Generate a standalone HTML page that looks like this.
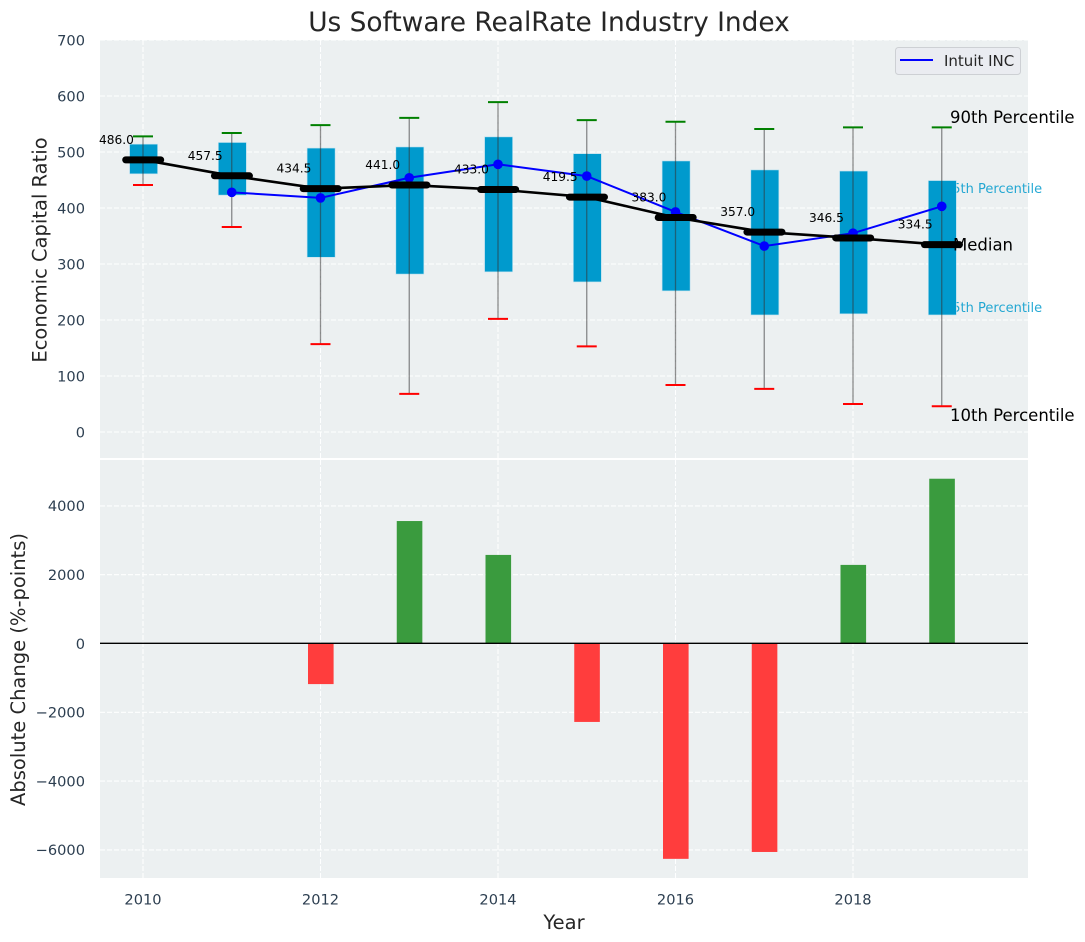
<!DOCTYPE html>
<html lang="en">
<head>
<meta charset="utf-8">
<title>Us Software RealRate Industry Index</title>
<style>
html,body{margin:0;padding:0;background:#fff;width:1085px;height:942px;overflow:hidden}
svg{display:block;font-family:"DejaVu Sans","Liberation Sans",sans-serif}
</style>
</head>
<body>
<svg id="chart" xmlns="http://www.w3.org/2000/svg" width="1085" height="942" viewBox="0 0 1085 942">
  <rect x="0" y="0" width="1085" height="942" fill="#ffffff"/>
  <rect x="100" y="40" width="928" height="418" fill="#ecf0f1"/>
  <rect x="100" y="460" width="928" height="418" fill="#ecf0f1"/>
  <g id="grid"></g>
  <g id="percentile-under"></g>
  <g id="bars"></g>
  <g id="boxes"></g>
  <g id="whiskers"></g>
  <g id="company"></g>
  <g id="medians"></g>
  <line x1="100" x2="1028" y1="643.3" y2="643.3" stroke="#000" stroke-width="1.4"/>
  <g id="ticks"></g>
  <text x="549" y="31" text-anchor="middle" font-size="26.4" fill="#262626">Us Software RealRate Industry Index</text>
  <text transform="translate(46.5,250) rotate(-90)" text-anchor="middle" font-size="19.5" fill="#262626">Economic Capital Ratio</text>
  <text transform="translate(25,669.5) rotate(-90)" text-anchor="middle" font-size="19.5" fill="#262626">Absolute Change (%-points)</text>
  <text x="564" y="929" text-anchor="middle" font-size="19.5" fill="#262626">Year</text>
  <text x="950" y="123" font-size="16.5" fill="#000">90th Percentile</text>
  <text x="953" y="250.5" font-size="16.5" fill="#000">Median</text>
  <text x="950" y="421" font-size="16.5" fill="#000">10th Percentile</text>
  <g>
    <rect x="895.5" y="47.5" width="125" height="27" rx="3" fill="#eaecf1" stroke="#cdd0d4" stroke-width="1"/>
    <line x1="900" x2="933" y1="60" y2="60" stroke="#0000ff" stroke-width="2"/>
    <text x="944" y="66" font-size="15" fill="#262626">Intuit INC</text>
  </g>
</svg>
<script>
const years = [2010, 2011, 2012, 2013, 2014, 2015, 2016, 2017, 2018, 2019];
const p90 = [528, 534, 548, 561, 589, 557, 554, 541, 544, 544];
const p75 = [514, 517, 507, 509, 527, 497, 484, 468, 466, 449];
const median = [486.0, 457.5, 434.5, 441.0, 433.0, 419.5, 383.0, 357.0, 346.5, 334.5];
const p25 = [461, 423, 312, 282, 286, 268, 252, 209, 211, 209];
const p10 = [441, 366, 157, 68, 202, 153, 84, 77, 50, 46];
const companyYears = [2011, 2012, 2013, 2014, 2015, 2016, 2017, 2018, 2019];
const companyValues = [428, 418, 454, 478, 457, 393, 332, 355, 403];
const changeYears = [2012, 2013, 2014, 2015, 2016, 2017, 2018, 2019];
const changeValues = [-1180, 3560, 2575, -2280, -6260, -6060, 2285, 4790];
const xTicks = [2010, 2012, 2014, 2016, 2018];
const topYTicks = [0, 100, 200, 300, 400, 500, 600, 700];
const bottomYTicks = [-6000, -4000, -2000, 0, 2000, 4000];
const boxLabelTexts = ['75th Percentile', '25th Percentile'];

const NS = 'http://www.w3.org/2000/svg';
const xScale = v => 143 + (v - 2010) * 88.75;
const yTop = v => 432 - v * 0.56;
const yBottom = v => 643.5 - v * 0.0344;

function make(tag, parentId, attrs, text) {
  const el = document.createElementNS(NS, tag);
  for (const k in attrs) el.setAttribute(k, attrs[k]);
  if (text !== undefined) el.textContent = text;
  document.getElementById(parentId).appendChild(el);
  return el;
}
const gridStyle = {stroke: '#ffffff', 'stroke-width': 1.1, 'stroke-dasharray': '5 2', 'stroke-opacity': 0.95};

xTicks.forEach(t => {
  const a = make('line', 'grid', Object.assign({x1: xScale(t), x2: xScale(t), y1: 40, y2: 458}, gridStyle));
  
  
  const b = make('line', 'grid', Object.assign({x1: xScale(t), x2: xScale(t), y1: 460, y2: 878}, gridStyle));
  
  
  const l = make('text', 'ticks', {x: xScale(t), y: 904.5, 'text-anchor': 'middle', 'font-size': 14.6, fill: '#2c3e50'}, String(t));
  
  
});
topYTicks.forEach(t => {
  const g = make('line', 'grid', Object.assign({x1: 100, x2: 1028, y1: yTop(t), y2: yTop(t)}, gridStyle));
  
  
  const l = make('text', 'ticks', {x: 85, y: yTop(t) + 5.3, 'text-anchor': 'end', 'font-size': 14.6, fill: '#2c3e50'}, String(t));
  
  
});
bottomYTicks.forEach(t => {
  const g = make('line', 'grid', Object.assign({x1: 100, x2: 1028, y1: yBottom(t), y2: yBottom(t)}, gridStyle));
  
  
  const l = make('text', 'ticks', {x: 85, y: yBottom(t) + 5.3, 'text-anchor': 'end', 'font-size': 14.6, fill: '#2c3e50'}, String(t).replace('-', '\u2212'));
  
  
});

const lastIndex = years.length - 1;
const boxLabelOffsets = [12.5, -3];
[p75[lastIndex], p25[lastIndex]].forEach((v, i) => {
  const l = make('text', 'percentile-under', {x: 944, y: yTop(v) + boxLabelOffsets[i], 'font-size': 13, fill: '#009acd', 'fill-opacity': 0.85}, boxLabelTexts[i]);
  
  
});

changeYears.forEach((yr, i) => {
  const v = changeValues[i];
  const top = yBottom(Math.max(v, 0));
  const bot = yBottom(Math.min(v, 0));
  const r = make('rect', 'bars', {x: xScale(yr) - 12.5, width: 25.6, y: top, height: bot - top,
    fill: v >= 0 ? '#3a9b3e' : '#ff3d3d'});
  
  
});

years.forEach((yr, i) => {
  const cx = xScale(yr);
  const top = yTop(p75[i]);
  const bot = yTop(p25[i]);
  const r = make('rect', 'boxes', {x: cx - 13.4, width: 28, y: top, height: bot - top,
    fill: '#009acd', stroke: '#bfe2ef', 'stroke-width': 0.6});
  
  
  const w = make('line', 'whiskers', {x1: cx, x2: cx, y1: yTop(p90[i]), y2: yTop(p10[i]),
    stroke: '#333', 'stroke-opacity': 0.55, 'stroke-width': 1.3});
  
  
  const c1 = make('line', 'whiskers', {x1: cx - 10, x2: cx + 10, y1: yTop(p90[i]), y2: yTop(p90[i]), stroke: '#008000', 'stroke-width': 2});
  
  
  const c2 = make('line', 'whiskers', {x1: cx - 10, x2: cx + 10, y1: yTop(p10[i]), y2: yTop(p10[i]), stroke: '#ff0000', 'stroke-width': 2});
  
  
});

const companyPoints = companyYears.map((yr, i) => xScale(yr) + ',' + yTop(companyValues[i])).join(' ');
const companyLine = make('polyline', 'company', {points: companyPoints, fill: 'none', stroke: '#0000ff', 'stroke-width': 2});


companyYears.forEach((yr, i) => {
  const d = make('circle', 'company', {cx: xScale(yr), cy: yTop(companyValues[i]), r: 4.8, fill: '#0000ff'});
  
  
});

const medianPoints = years.map((yr, i) => xScale(yr) + ',' + yTop(median[i])).join(' ');
const medianLine = make('polyline', 'medians', {points: medianPoints, fill: 'none', stroke: '#000', 'stroke-width': 2.6});


years.forEach((yr, i) => {
  const cx = xScale(yr);
  const y = yTop(median[i]);
  const m = make('line', 'medians', {x1: cx - 17.3, x2: cx + 17.7, y1: y, y2: y, stroke: '#000', 'stroke-width': 7, 'stroke-linecap': 'round'});
  
  
  const t = make('text', 'medians', {x: cx - 26.5, y: y - 16, 'text-anchor': 'middle', 'font-size': 12.2, fill: '#000'}, median[i].toFixed(1));
  
  
});
</script>
</body>
</html>
